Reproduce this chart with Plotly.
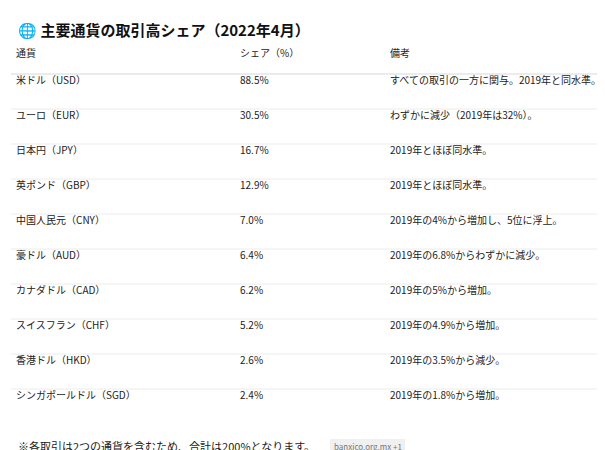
import plotly.graph_objects as go

title = "🌐 主要通貨の取引高シェア（2022年4月）"
headers = ["通貨", "シェア（%）", "備考"]
currencies = ["米ドル（USD）", "ユーロ（EUR）", "日本円（JPY）", "英ポンド（GBP）", "中国人民元（CNY）",
              "豪ドル（AUD）", "カナダドル（CAD）", "スイスフラン（CHF）", "香港ドル（HKD）", "シンガポールドル（SGD）"]
shares = [88.5, 30.5, 16.7, 12.9, 7.0, 6.4, 6.2, 5.2, 2.6, 2.4]
notes = ["すべての取引の一方に関与。2019年と同水準。", "わずかに減少（2019年は32%）。", "2019年とほぼ同水準。",
         "2019年とほぼ同水準。", "2019年の4%から増加し、5位に浮上。", "2019年の6.8%からわずかに減少。",
         "2019年の5%から増加。", "2019年の4.9%から増加。", "2019年の3.5%から減少。", "2019年の1.8%から増加。"]
footnote = "※各取引は2つの通貨を含むため、合計は200%となります。"
source = "banxico.org.mx +1"

W, H = 605, 450
FONT = "Noto Sans CJK JP, sans-serif"
top, head_h, row_h = 33, 27, 35

fig = go.Figure(go.Table(
    domain=dict(x=[0, 1], y=[0, 1 - top / H]),
    columnwidth=[224, 150, 231],
    header=dict(values=headers, align="left", height=head_h, fill_color="white",
                line=dict(color="white", width=0),
                font=dict(family=FONT, size=10, color="#222")),
    cells=dict(values=[currencies, [f"{v:.1f}%" for v in shares], notes], align="left",
               height=row_h, fill_color="white", line=dict(color="white", width=0),
               font=dict(family=FONT, size=10, color="#222")),
))

shapes = []
for i in range(len(currencies)):
    yy = 66 + i * row_h
    shapes.append(dict(type="line", xref="paper", yref="paper", x0=0.005, x1=0.995,
                       y0=1 - yy / H, y1=1 - yy / H,
                       line=dict(color="#d8d8d8" if i == 0 else "#ececec", width=1)))
shapes.append(dict(type="rect", xref="paper", yref="paper", x0=322 / W, x1=397 / W,
                   y0=1 - 446 / H, y1=1 - 431 / H, fillcolor="#f0f0f0",
                   line=dict(width=0)))

fig.update_layout(
    width=W, height=H, margin=dict(l=0, r=0, t=0, b=0),
    paper_bgcolor="white", plot_bgcolor="white", shapes=shapes,
    annotations=[
        dict(text=f"<b>{title}</b>", x=8 / W, y=1 - 22 / H, xref="paper", yref="paper",
             xanchor="left", yanchor="middle", showarrow=False,
             font=dict(family=FONT, size=15, color="#111")),
        dict(text=footnote, x=8 / W, y=1 - 438 / H, xref="paper", yref="paper",
             xanchor="left", yanchor="middle", showarrow=False,
             font=dict(family=FONT, size=11, color="#222")),
        dict(text=source, x=359.5 / W, y=1 - 438.5 / H, xref="paper", yref="paper",
             xanchor="center", yanchor="middle", showarrow=False,
             font=dict(family=FONT, size=8, color="#777")),
    ],
)
fig.write_html("out.html")
